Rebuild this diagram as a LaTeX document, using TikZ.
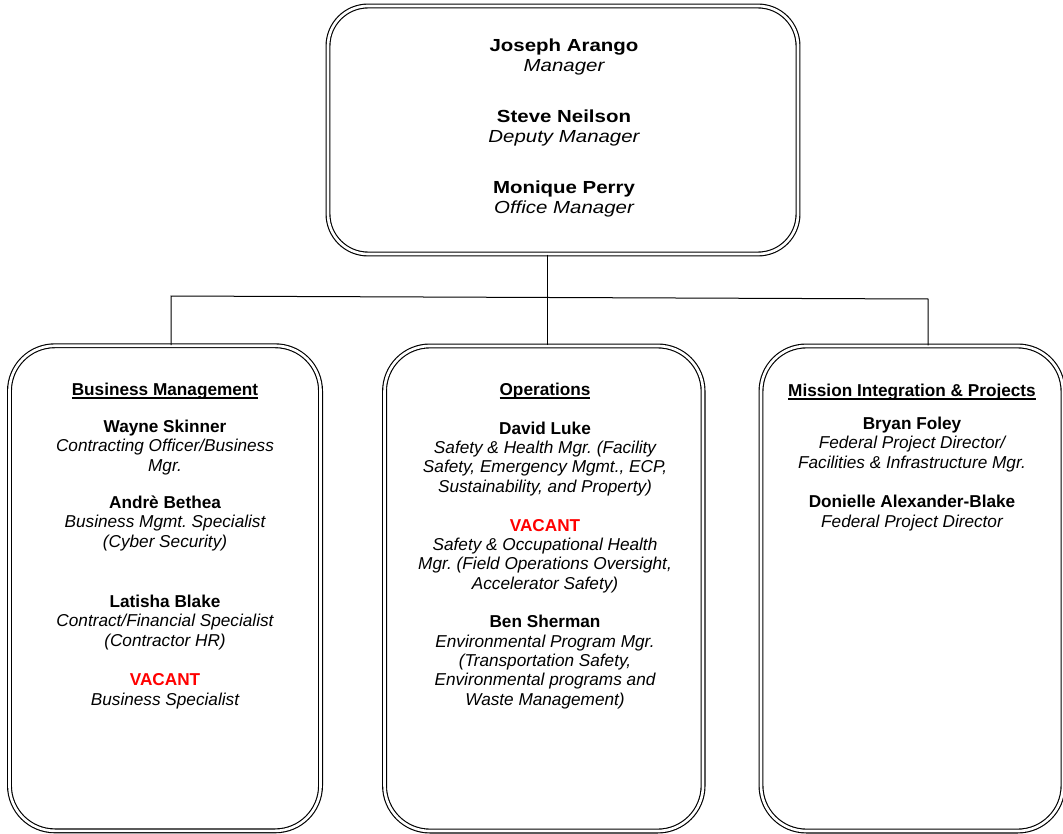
\documentclass[tikz,border=0pt]{standalone}
\usepackage{fontspec}
\setmainfont{Liberation Sans}
\newfontfamily\topfont[FakeStretch=1.17]{Liberation Sans}
\definecolor{vacantred}{HTML}{FF0000}
\frenchspacing

\newcommand\nm[1]{{\upshape\bfseries #1}}
\newcommand\vac{{\upshape\bfseries\color{vacantred}VACANT}}
\newcommand\uhead[1]{\setbox0=\hbox{#1}\rlap{\rule[-2.7pt]{\wd0}{0.9pt}}\box0}

\begin{document}
\begin{tikzpicture}[x=0.75pt, y=-0.75pt]
        \tikzset{unitbox/.style={draw, double, line width=0.85pt, double distance=2pt,
                 rounded corners=34pt, minimum height=363.8pt},
                 entry/.style={align=center, anchor=base,
                 font=\fontsize{12.9}{14.5}\selectfont\itshape},
                 heading/.style={anchor=base, font=\fontsize{12.9}{14.5}\selectfont\bfseries},
                 topentry/.style={align=center, anchor=base,
                 font=\topfont\fontsize{13.1}{15.5}\selectfont\itshape}}
        \useasboundingbox (0,0) rectangle (1063,834);

        \node[unitbox, rounded corners=30pt, minimum width=352.5pt, minimum height=186pt] (mgr) at (563,130) {};
        \node[unitbox, minimum width=233.3pt] (bm)  at (165,588.3) {};
        \node[unitbox, minimum width=238.9pt] (ops) at (543.8,588.5) {};
        \node[unitbox, minimum width=226.5pt] (mip) at (912,588.5) {};

        % base anchor sits on the last line of each entry
        \node[topentry] (ja) at (564,72)  {\nm{Joseph Arango}\\Manager};
        \node[topentry] (sn) at (564,143) {\nm{Steve Neilson}\\Deputy Manager};
        \node[topentry] (mp) at (564,214) {\nm{Monique Perry}\\Office Manager};

        \node[heading] (bmhead) at (165,395) {\uhead{Business Management}};
        \node[entry] (ws)    at (165,471) {\nm{Wayne Skinner}\\Contracting Officer/Business\\Mgr.};
        \node[entry] (ab)    at (165,547) {\nm{Andrè Bethea}\\Business Mgmt. Specialist\\(Cyber Security)};
        \node[entry] (lb)    at (165,646) {\nm{Latisha Blake}\\Contract/Financial Specialist\\(Contractor HR)};
        \node[entry] (bmvac) at (165,705) {\vac\\Business Specialist};

        \node[heading] (opshead) at (545,395) {\uhead{Operations}};
        \node[entry] (dl)     at (545,492) {\nm{David Luke}\\Safety \& Health Mgr. (Facility\\Safety, Emergency Mgmt., ECP,\\Sustainability, and Property)};
        \node[entry] (opsvac) at (545,589) {\vac\\Safety \& Occupational Health\\Mgr. (Field Operations Oversight,\\Accelerator Safety)};
        \node[entry] (bs)     at (545,705) {\nm{Ben Sherman}\\Environmental Program Mgr.\\(Transportation Safety,\\Environmental programs and\\Waste Management)};

        \node[heading] (miphead) at (912,396) {\uhead{Mission Integration \& Projects}};
        \node[entry] (bf)  at (912,468) {\nm{Bryan Foley}\\Federal Project Director/\\Facilities \& Infrastructure Mgr.};
        \node[entry] (dab) at (912,527) {\nm{Donielle Alexander-Blake}\\Federal Project Director};

        \coordinate (bmdrop)  at (171,296);
        \coordinate (opsdrop) at (547,297.7);
        \coordinate (mipdrop) at (928,299);
        \draw[line width=0.75pt] (bm.north -| bmdrop) -- (bmdrop) -- (mipdrop) -- (mip.north -| mipdrop);
        \draw[line width=0.75pt] (mgr.south -| opsdrop) -- (ops.north -| opsdrop);
      \end{tikzpicture}
\end{document}
